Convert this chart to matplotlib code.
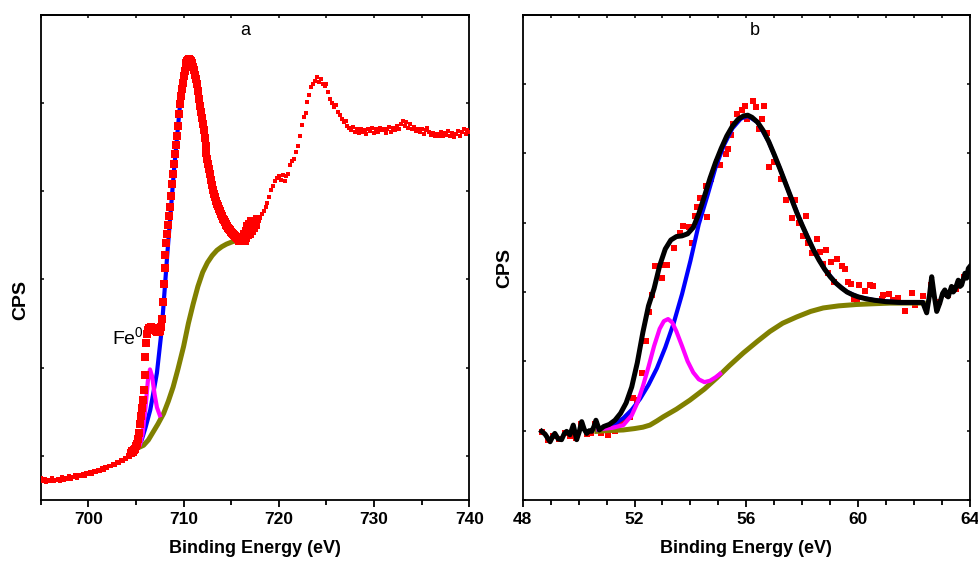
import numpy as np
import matplotlib
matplotlib.use("Agg")
import matplotlib.pyplot as plt
from matplotlib.ticker import MultipleLocator

plt.rcParams["font.family"] = ["Liberation Sans", "DejaVu Sans"]
plt.rcParams["mathtext.fontset"] = "custom"
plt.rcParams["mathtext.rm"] = "Liberation Sans"

# ---- panel a : Fe 2p ----
# survey points before the fitted window (0.2 eV step)
a_low_start, a_low_step = 695.0, 0.2
a_low_cps = [0.75, 0.71, 0.74, 0.70, 0.73, 0.72, 0.75, 0.71, 0.73, 0.74,
             0.72, 0.76, 0.73, 0.75, 0.74, 0.77, 0.74, 0.76, 0.78, 0.75,
             0.78, 0.77, 0.79, 0.77, 0.81, 0.79, 0.82, 0.80, 0.83, 0.82,
             0.84, 0.83, 0.86, 0.84, 0.87, 0.86, 0.89, 0.88, 0.91, 0.90,
             0.93, 0.92, 0.95, 0.94, 0.98, 0.96, 1.01, 0.99]

# fitted window (0.1 eV step)
a_fit_start, a_fit_step = 704.5, 0.1
a_fit_cps = [1.03, 1.05, 1.04, 1.07, 1.08, 1.11, 1.14, 1.19, 1.26, 1.36,
             1.45, 1.54, 1.63, 1.75, 1.92, 2.12, 2.28, 2.38, 2.43, 2.45,
             2.44, 2.46, 2.45, 2.44, 2.45, 2.43, 2.41, 2.40, 2.41, 2.40,
             2.42, 2.46, 2.55, 2.74, 2.95, 3.13, 3.28, 3.41, 3.52, 3.62,
             3.72, 3.82, 3.95, 4.08, 4.20, 4.31, 4.42, 4.52, 4.62, 4.74,
             4.87, 4.99, 5.08, 5.16, 5.23, 5.30, 5.36, 5.41, 5.45, 5.47,
             5.49, 5.50, 5.49, 5.48, 5.45, 5.41, 5.37, 5.32, 5.27, 5.21,
             5.13, 5.05, 4.97, 4.90, 4.83, 4.76, 4.69, 4.60, 4.51, 4.43,
             4.37, 4.31, 4.25, 4.19, 4.13, 4.07, 4.01, 3.97, 3.93, 3.89,
             3.86, 3.83, 3.80, 3.77, 3.74, 3.72, 3.69, 3.67, 3.65, 3.63,
             3.62, 3.60, 3.58, 3.57, 3.56, 3.54, 3.53, 3.52, 3.50, 3.49,
             3.48, 3.47, 3.46, 3.44, 3.46, 3.43, 3.47, 3.45, 3.52, 3.44,
             3.55, 3.47, 3.60, 3.50, 3.63, 3.52, 3.66, 3.55, 3.62, 3.58,
             3.66, 3.62, 3.68]

# satellite region after the window (0.2 eV step)
a_high_start, a_high_step = 718.0, 0.2
a_high_cps = [3.70, 3.74, 3.77, 3.82, 3.87, 3.93, 4.01, 4.06, 4.11, 4.15,
              4.17, 4.13, 4.18, 4.12, 4.17, 4.19, 4.30, 4.34, 4.37, 4.44,
              4.51, 4.62, 4.75, 4.84, 4.89, 5.01, 5.09, 5.18, 5.22, 5.25,
              5.29, 5.24, 5.27, 5.21, 5.19, 5.22, 5.12, 5.04, 5.00, 4.95,
              4.98, 4.90, 4.86, 4.82, 4.78, 4.80, 4.74, 4.72, 4.69, 4.73,
              4.67, 4.70, 4.66, 4.71, 4.67, 4.69, 4.65, 4.70, 4.68, 4.72,
              4.66, 4.70, 4.67, 4.72, 4.69, 4.71, 4.66, 4.70, 4.73, 4.67,
              4.72, 4.69, 4.74, 4.71, 4.76, 4.80, 4.74, 4.78, 4.72, 4.76,
              4.70, 4.73, 4.68, 4.71, 4.67, 4.70, 4.65, 4.69, 4.72, 4.67,
              4.64, 4.66, 4.62, 4.65, 4.63, 4.67, 4.62, 4.66, 4.64, 4.68,
              4.63, 4.66, 4.61, 4.65, 4.68, 4.63, 4.67, 4.70, 4.65, 4.69,
              4.67]

# fitted components
a_bg_be = [705.0, 705.4, 705.8, 706.3, 706.8, 707.3, 707.9, 708.4, 708.9, 709.4,
           710.0, 710.5, 711.0, 711.5, 712.0, 712.5, 713.0, 713.5, 714.0, 714.5,
           715.2, 715.9]
a_bg_cps = [1.08, 1.10, 1.12, 1.18, 1.27, 1.36, 1.48, 1.62, 1.78, 1.98,
            2.24, 2.50, 2.72, 2.92, 3.08, 3.19, 3.27, 3.33, 3.37, 3.40,
            3.43, 3.44]
a_ox_be = [705.0, 705.6, 706.0, 706.5, 707.2, 707.7, 708.3, 709.0, 709.6, 710.2,
           710.7, 711.2, 711.8, 712.4, 713.1, 713.8, 714.5, 715.2, 715.9]
a_ox_cps = [1.09, 1.18, 1.32, 1.52, 1.94, 2.43, 3.30, 4.25, 4.95, 5.38,
            5.47, 5.32, 4.90, 4.43, 4.00, 3.75, 3.58, 3.49, 3.44]
a_fe0_be = [705.1, 705.4, 705.7, 706.0, 706.25, 706.47, 706.7, 706.95, 707.2, 707.5]
a_fe0_cps = [1.08, 1.12, 1.25, 1.55, 1.85, 1.98, 1.90, 1.70, 1.55, 1.46]

# ---- panel b : Fe 3p ----
b_pts_be = [48.70, 48.90, 49.10, 49.30, 49.50, 49.70, 49.90, 50.10, 50.30, 50.45,
            50.60, 50.80, 51.06, 51.30, 51.48, 51.66, 51.84, 51.96, 52.08, 52.26,
            52.40, 52.53, 52.61, 52.73, 52.97, 53.03, 53.15, 53.41, 53.63, 53.74,
            53.96, 54.04, 54.16, 54.25, 54.34, 54.56, 54.60, 54.72, 54.94, 55.06,
            55.27, 55.33, 55.45, 55.53, 55.65, 55.83, 55.95, 56.03, 56.25, 56.34,
            56.46, 56.55, 56.64, 56.73, 56.82, 57.00, 57.23, 57.42, 57.62, 57.74,
            57.89, 58.04, 58.13, 58.21, 58.34, 58.54, 58.63, 58.73, 58.84, 58.93,
            59.03, 59.14, 59.23, 59.43, 59.53, 59.65, 59.73, 59.85, 59.97, 60.03,
            60.24, 60.42, 60.52, 60.84, 60.90, 61.11, 61.25, 61.43, 61.67, 61.93,
            62.03, 62.31, 62.60, 62.90, 63.20, 63.50, 63.80]
b_pts_cps = [0.98, 0.86, 0.93, 0.88, 0.97, 0.92, 0.90, 1.10, 0.95, 0.97,
             1.10, 0.97, 0.94, 0.99, 1.11, 1.15, 1.20, 1.47, 1.44, 1.83,
             2.30, 2.71, 2.96, 3.38, 3.20, 3.39, 3.39, 3.63, 3.85, 3.95,
             3.94, 3.70, 4.09, 4.22, 4.35, 4.53, 4.08, 4.63, 4.87, 4.83,
             4.99, 5.06, 5.27, 5.42, 5.57, 5.63, 5.68, 5.49, 5.76, 5.67,
             5.35, 5.49, 5.69, 5.29, 4.81, 4.87, 4.63, 4.33, 4.07, 4.33,
             4.00, 3.81, 4.10, 3.70, 3.56, 3.76, 3.58, 3.41, 3.61, 3.28,
             3.44, 3.14, 3.48, 3.37, 3.33, 3.14, 3.12, 2.90, 2.89, 3.10,
             3.02, 3.10, 3.08, 2.90, 2.96, 2.97, 2.89, 2.92, 2.73, 2.99,
             2.81, 2.94, 3.10, 2.86, 2.95, 3.05, 3.22]

b_env_be = [48.68, 48.80, 48.98, 49.08, 49.15, 49.27, 49.39, 49.48, 49.57, 49.69,
            49.81, 49.93, 50.02, 50.11, 50.20, 50.29, 50.38, 50.47, 50.55, 50.62,
            50.74, 50.90, 51.10, 51.30, 51.50, 51.70, 51.90, 52.10, 52.30, 52.50,
            52.70, 52.90, 53.10, 53.30, 53.50, 53.70, 53.90, 54.10, 54.30, 54.50,
            54.70, 54.90, 55.10, 55.30, 55.50, 55.70, 55.90, 56.05, 56.20, 56.40,
            56.60, 56.80, 57.00, 57.20, 57.40, 57.60, 57.80, 58.00, 58.20, 58.40,
            58.60, 58.80, 59.00, 59.20, 59.40, 59.60, 59.80, 60.00, 60.30, 60.60,
            61.00, 61.50, 62.00, 62.31, 62.45, 62.55, 62.63, 62.72, 62.81, 62.92,
            63.02, 63.10, 63.16, 63.22, 63.34, 63.40, 63.46, 63.58, 63.64, 63.70,
            63.82, 63.88, 63.94, 64.00]
b_env_cps = [0.99, 0.95, 0.84, 0.92, 0.96, 0.88, 0.87, 0.95, 0.99, 0.94,
             1.08, 0.87, 0.98, 1.13, 1.02, 0.96, 1.00, 0.99, 1.06, 1.15,
             1.01, 1.06, 1.09, 1.15, 1.25, 1.40, 1.63, 1.98, 2.42, 2.80,
             3.05, 3.38, 3.62, 3.75, 3.80, 3.81, 3.84, 3.93, 4.13, 4.38,
             4.64, 4.87, 5.07, 5.25, 5.39, 5.49, 5.54, 5.55, 5.52, 5.45,
             5.33, 5.17, 4.98, 4.78, 4.57, 4.36, 4.15, 3.96, 3.78, 3.61,
             3.46, 3.33, 3.22, 3.13, 3.06, 3.00, 2.96, 2.93, 2.90, 2.88,
             2.86, 2.85, 2.85, 2.85, 2.70, 2.95, 3.22, 2.95, 2.72, 2.84,
             2.98, 3.03, 2.95, 2.93, 3.08, 3.00, 3.03, 3.17, 3.08, 3.10,
             3.27, 3.20, 3.34, 3.37]

b_bg_be = [50.65, 51.0, 51.6, 52.0, 52.3, 52.55, 52.8, 53.03, 53.5, 53.98,
           54.5, 54.94, 55.4, 55.89, 56.4, 56.84, 57.3, 57.8, 58.3, 58.75,
           59.3, 59.94, 60.5, 61.14, 62.33]
b_bg_cps = [0.99, 1.00, 1.01, 1.03, 1.05, 1.08, 1.14, 1.20, 1.31, 1.44,
            1.60, 1.76, 1.94, 2.12, 2.29, 2.43, 2.55, 2.64, 2.72, 2.77,
            2.80, 2.82, 2.83, 2.84, 2.84]
b_main_be = [50.7, 51.0, 51.3, 51.6, 51.9, 52.2, 52.5, 52.8, 53.1, 53.4,
             53.7, 54.0, 54.3, 54.6, 54.9, 55.2, 55.5, 55.8, 56.05, 56.4,
             56.8, 57.2, 57.6, 58.0, 58.4, 58.8, 59.2, 59.6, 60.0, 60.6,
             61.5, 62.3]
b_main_cps = [1.02, 1.05, 1.10, 1.18, 1.30, 1.46, 1.66, 1.90, 2.20, 2.55,
              2.97, 3.45, 3.98, 4.38, 4.80, 5.12, 5.36, 5.50, 5.54, 5.45,
              5.17, 4.78, 4.36, 3.96, 3.61, 3.33, 3.13, 3.00, 2.93, 2.88,
              2.85, 2.85]
b_sat_be = [50.7, 51.2, 51.6, 51.9, 52.1, 52.3, 52.5, 52.7, 52.9, 53.05,
            53.2, 53.35, 53.5, 53.7, 53.9, 54.1, 54.3, 54.5, 54.7, 54.9,
            55.06]
b_sat_cps = [1.02, 1.04, 1.08, 1.22, 1.40, 1.64, 1.92, 2.22, 2.47, 2.58,
             2.61, 2.56, 2.43, 2.22, 2.00, 1.84, 1.74, 1.70, 1.72, 1.77,
             1.82]

RED, BLUE, MAG, OLIVE = "#ff0000", "#0000ff", "#ff00ff", "#808000"
BOLD = dict(fontweight="bold")


def style_axes(ax, major, minor, xlim, ylim):
    ax.set_xlim(*xlim)
    ax.set_ylim(*ylim)
    ax.xaxis.set_major_locator(MultipleLocator(major))
    ax.xaxis.set_minor_locator(MultipleLocator(minor))
    ax.yaxis.set_major_locator(MultipleLocator(1))
    for s in ax.spines.values():
        s.set_linewidth(1.3)
    ax.tick_params(axis="x", which="major", direction="out", length=5, width=1.3,
                   top=False, labelsize=12.5, pad=4)
    ax.tick_params(axis="x", which="minor", direction="out", length=3.5, width=1.3, top=False)
    ax.tick_params(axis="y", which="major", direction="in", length=2.5, width=1.1,
                   left=True, right=True, labelleft=False)
    for lab in ax.get_xticklabels():
        lab.set_fontweight("bold")
    # short inward ticks along the top spine
    top = ax.secondary_xaxis("top")
    top.xaxis.set_major_locator(MultipleLocator(minor))
    top.tick_params(direction="in", length=2.5, width=1.1, labeltop=False)
    top.spines["top"].set_linewidth(1.3)
    ax.set_xlabel("Binding Energy (eV)", fontsize=13, labelpad=9, **BOLD)


fig = plt.figure(figsize=(9.79, 5.72), dpi=100)
ax_a = fig.add_axes([0.0416, 0.1259, 0.4378, 0.8484])
ax_b = fig.add_axes([0.5339, 0.1259, 0.4569, 0.8484])

# panel a
x_low = a_low_start + a_low_step * np.arange(len(a_low_cps))
x_fit = a_fit_start + a_fit_step * np.arange(len(a_fit_cps))
x_high = a_high_start + a_high_step * np.arange(len(a_high_cps))
ax_a.plot(a_bg_be, a_bg_cps, color=OLIVE, lw=3.6, zorder=1, solid_capstyle="round")
ax_a.plot(a_ox_be, a_ox_cps, color=BLUE, lw=3.0, zorder=2)
ax_a.plot(a_fe0_be, a_fe0_cps, color=MAG, lw=3.0, zorder=3)
ax_a.plot(x_low, a_low_cps, "s", color=RED, ms=2.8, mew=0, zorder=4)
ax_a.plot(x_high, a_high_cps, "s", color=RED, ms=2.8, mew=0, zorder=4)
ax_a.plot(x_fit, a_fit_cps, "s", color=RED, ms=6.4, mew=0, zorder=5)
ax_a.text(705.85, 2.26, r"$\mathrm{Fe}^{0}$", fontsize=14, ha="right", va="baseline", zorder=6)
ax_a.text(0.477, 0.968, "a", transform=ax_a.transAxes, fontsize=13,
          ha="center", va="center")
style_axes(ax_a, 10, 5, (695, 740), (0.5, 6.0))

# panel b
ax_b.plot(b_pts_be, b_pts_cps, "s", color=RED, ms=4.0, mew=0, zorder=1)
ax_b.plot(b_bg_be, b_bg_cps, color=OLIVE, lw=3.6, zorder=2)
ax_b.plot(b_main_be, b_main_cps, color=BLUE, lw=3.0, zorder=3)
ax_b.plot(b_sat_be, b_sat_cps, color=MAG, lw=3.0, zorder=4)
ax_b.plot(b_env_be, b_env_cps, color="black", lw=3.6, zorder=5, solid_joinstyle="round")
ax_b.text(0.519, 0.968, "b", transform=ax_b.transAxes, fontsize=13,
          ha="center", va="center")
style_axes(ax_b, 4, 1, (48, 64), (0, 7))

fig.text(0.0215, 0.4755, "CPS", rotation=90, fontsize=14, ha="center", va="center", **BOLD)
fig.text(0.516, 0.531, "CPS", rotation=90, fontsize=14, ha="center", va="center", **BOLD)

fig.savefig("out.png", dpi=100)
